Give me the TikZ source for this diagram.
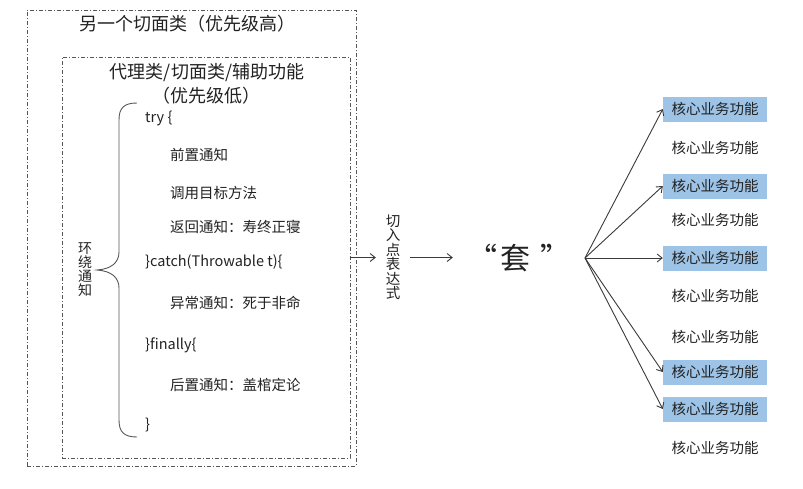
\documentclass[tikz,border=0pt]{standalone}
\usepackage{fontspec}
\setmainfont{Noto Sans CJK SC}
\usetikzlibrary{arrows.meta}
\definecolor{linegray}{HTML}{555555}
\definecolor{arrowgray}{HTML}{3A3A3A}
\definecolor{textdark}{HTML}{222222}
\definecolor{bluefill}{HTML}{9DC3E6}
\begin{document}
\begin{tikzpicture}[x=1pt,y=-1pt,
  every node/.style={text=textdark, inner sep=0pt},
  frame/.style={draw=linegray, line width=0.8pt, dash pattern=on 4pt off 2pt on 1pt off 2pt},
  codeline/.style={anchor=west, font=\fontsize{14.5}{16}\selectfont},
  item/.style={minimum width=104, minimum height=25, font=\fontsize{14.5}{16}\selectfont},
  hot/.style={item, fill=bluefill},
  link/.style={draw=arrowgray, line width=0.9pt, -{Straight Barb[length=5pt,width=8pt]}},
  vtext/.style={align=center, font=\fontsize{14.5}{14.5}\selectfont}
]
\useasboundingbox (0,0) rectangle (803,488);

% outer and inner aspect frames
\node[frame, minimum width=329, minimum height=456] (outer) at (191.5,238) {};
\node[frame, minimum width=288, minimum height=401] (inner) at (206,257.5) {};

\node[font=\fontsize{18}{20}\selectfont] (outertitle) at (187,24) {另一个切面类（优先级高）};
\node[font=\fontsize{18}{20}\selectfont] (innertitle) at (207,73) {代理类/切面类/辅助功能};
\node[font=\fontsize{18}{20}\selectfont] (innerprio) at (206,96) {（优先级低）};

% around advice brace
\draw[linegray, line width=0.9pt]
  (137,103) .. controls (124,103) and (119,108) .. (119,120)
  -- (119,252) .. controls (119,262) and (112,269) .. (97,270)
  .. controls (112,271) and (119,278) .. (119,288)
  -- (119,420) .. controls (119,432) and (124,437) .. (137,437);
\node[vtext, font=\fontsize{14}{14}\selectfont] (around) at (85,270) {环\\绕\\通\\知};

% code skeleton
\node[codeline] (l1) at (145,118) {try \{};
\node[codeline] (l2) at (170,155) {前置通知};
\node[codeline] (l3) at (170,193) {调用目标方法};
\node[codeline] (l4) at (170,227) {返回通知：寿终正寝};
\node[codeline] (l5) at (145,262) {\}catch(Throwable t)\{};
\node[codeline] (l6) at (170,303) {异常通知：死于非命};
\node[codeline] (l7) at (145,345) {\}finally\{};
\node[codeline] (l8) at (170,385) {后置通知：盖棺定论};
\node[codeline] (l9) at (145,425) {\}};

% pointcut expression and weaving
\node[vtext, minimum width=34] (cut) at (393,257.5) {切\\入\\点\\表\\达\\式};
\node[minimum width=132, font=\fontsize{30}{32}\selectfont] (tao) at (519,257.5) {“\hspace{4pt}套\hspace{10pt}”};
\coordinate (hub) at (585,258);

\draw[link] (inner.east) -- (cut.west);
\draw[link] (cut.east) -- (tao.west);

% core business functions
\node[hot]  (b1)  at (715,109) {核心业务功能};
\node[item] (b2)  at (715,148) {核心业务功能};
\node[hot]  (b3)  at (715,186) {核心业务功能};
\node[item] (b4)  at (715,220) {核心业务功能};
\node[hot]  (b5)  at (715,258) {核心业务功能};
\node[item] (b6)  at (715,296) {核心业务功能};
\node[item] (b7)  at (715,337) {核心业务功能};
\node[hot]  (b8)  at (715,372) {核心业务功能};
\node[hot]  (b9)  at (715,409) {核心业务功能};
\node[item] (b10) at (715,448) {核心业务功能};

\foreach \t in {b1,b3,b5,b8,b9}
  \draw[link] (hub) -- (\t.west);
\end{tikzpicture}
\end{document}
